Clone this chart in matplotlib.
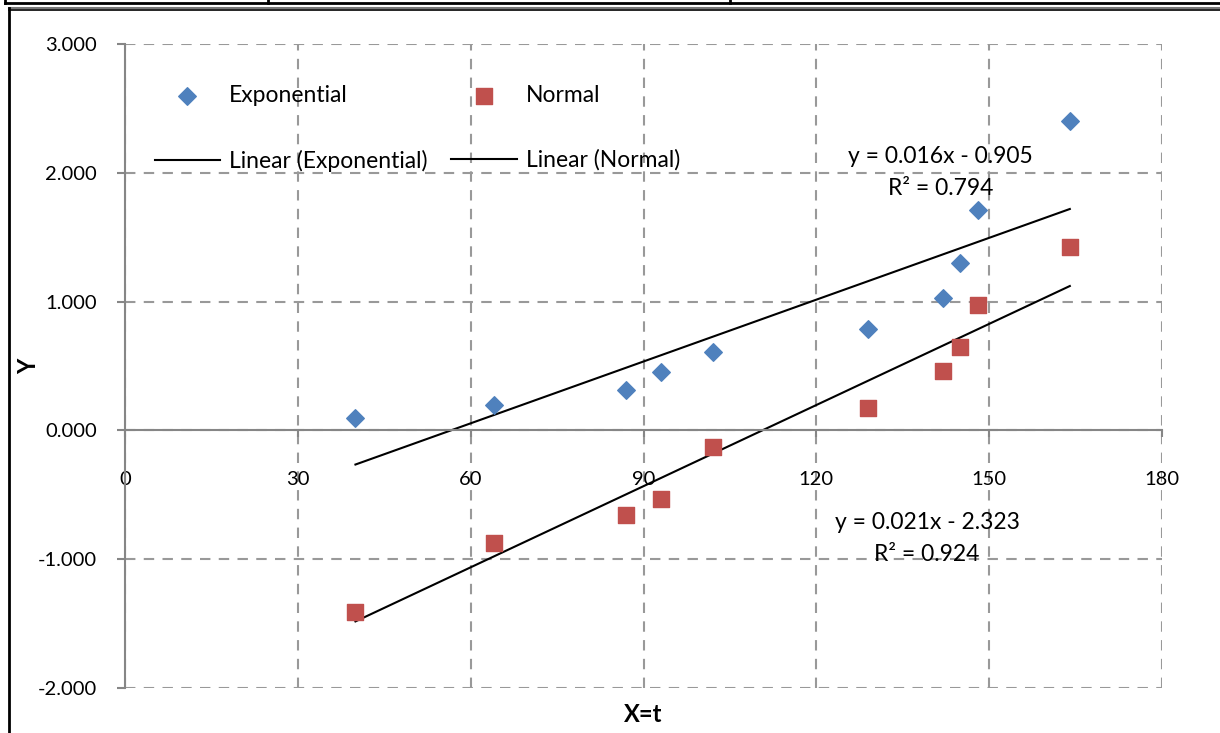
import matplotlib
matplotlib.use("Agg")
import matplotlib.pyplot as plt
from matplotlib.lines import Line2D
import numpy as np

plt.rcParams['font.family'] = ['Lato', 'DejaVu Sans']

# Data
x_vals = [40, 64, 87, 93, 102, 129, 142, 145, 148, 164]
exp_vals = [0.093, 0.194, 0.310, 0.450, 0.606, 0.784, 1.025, 1.297, 1.708, 2.399]
norm_vals = [-1.413, -0.877, -0.660, -0.536, -0.132, 0.171, 0.458, 0.644, 0.970, 1.421]
exp_fit = (0.016, -0.905)
norm_fit = (0.021, -2.323)
exp_label = "y = 0.016x - 0.905\nR\u00b2 = 0.794"
norm_label = "y = 0.021x - 2.323\nR\u00b2 = 0.924"
x_ticks = [0, 30, 60, 90, 120, 150, 180]
y_ticks = [-2, -1, 0, 1, 2, 3]

W, H = 1220, 733
fig = plt.figure(figsize=(W / 100, H / 100), dpi=100)
ax = fig.add_axes([125 / W, 1 - 688 / H, (1162 - 125) / W, (688 - 44) / H])

blue = '#4F81BD'
red = '#C0504D'
grey = '#868686'

h_exp = ax.scatter(x_vals, exp_vals, marker='D', s=80, color=blue, zorder=3, label='Exponential')
h_norm = ax.scatter(x_vals, norm_vals, marker='s', s=140, color=red, zorder=3, label='Normal')

xs = np.array([min(x_vals), max(x_vals)], dtype=float)
l_exp, = ax.plot(xs, exp_fit[0] * xs + exp_fit[1], color='black', lw=1.5, zorder=2,
                 label='Linear (Exponential)')
l_norm, = ax.plot(xs, norm_fit[0] * xs + norm_fit[1], color='black', lw=1.5, zorder=2,
                  label='Linear (Normal)')

ax.set_xlim(0, 180)
ax.set_ylim(-2, 3)
ax.set_xticks(x_ticks)
ax.set_yticks(y_ticks)
ax.set_yticklabels([f"{v:.3f}" for v in y_ticks])
ax.set_xticklabels([str(v) for v in x_ticks])

for s in ['top', 'right']:
    ax.spines[s].set_visible(False)
ax.spines['left'].set_color(grey)
ax.spines['left'].set_linewidth(1.5)
ax.spines['bottom'].set_position(('data', 0))
ax.spines['bottom'].set_color(grey)
ax.spines['bottom'].set_linewidth(1.5)

ax.grid(True, color='#999999', linestyle=(0, (5, 4)), linewidth=1.5, zorder=0)
ax.set_axisbelow(True)

ax.tick_params(axis='y', length=6, color=grey, width=1.5, pad=14, labelsize=14.5)
ax.tick_params(axis='x', length=5, color=grey, width=1.5, pad=24, labelsize=14.5)

ax.set_xlabel('X=t', fontsize=17, fontweight='bold')
ax.xaxis.set_label_coords(0.5, -0.024)
ax.set_ylabel('Y', fontsize=17, fontweight='bold')
ax.yaxis.set_label_coords(-0.082, 0.5)

leg = ax.legend([h_exp, l_exp, h_norm, l_norm],
                ['Exponential', 'Linear (Exponential)', 'Normal', 'Linear (Normal)'],
                ncol=2, loc='upper left', frameon=False, fontsize=16.5,
                handlelength=2.84, handletextpad=0.39, columnspacing=1.05,
                labelspacing=1.88, bbox_to_anchor=(0.020, 0.950), borderaxespad=0)

ax.text(141.5, 2.003, exp_label, ha='center', va='center', fontsize=16.5,
        linespacing=1.6)
ax.text(139.2, -0.84, norm_label, ha='center', va='center', fontsize=16.5,
        linespacing=1.65)

# outer frame / table lines
def fline(x0, y0, x1, y1, lw=2, color='black'):
    fig.add_artist(Line2D([x0 / W, x1 / W], [1 - y0 / H, 1 - y1 / H],
                          transform=fig.transFigure, color=color, lw=lw))

fline(5, 3, W, 3, lw=2)
fline(5, 0, 5, 3, lw=2)
fline(268, 0, 268, 3, lw=2)
fline(730, 0, 730, 3, lw=2)
fline(9, 8, W, 8, lw=1.5, color='#777777')
fline(9, 9.5, W, 9.5, lw=1.2)
fline(9, 8, 9, H, lw=2)

fig.savefig('out.png', dpi=100)
